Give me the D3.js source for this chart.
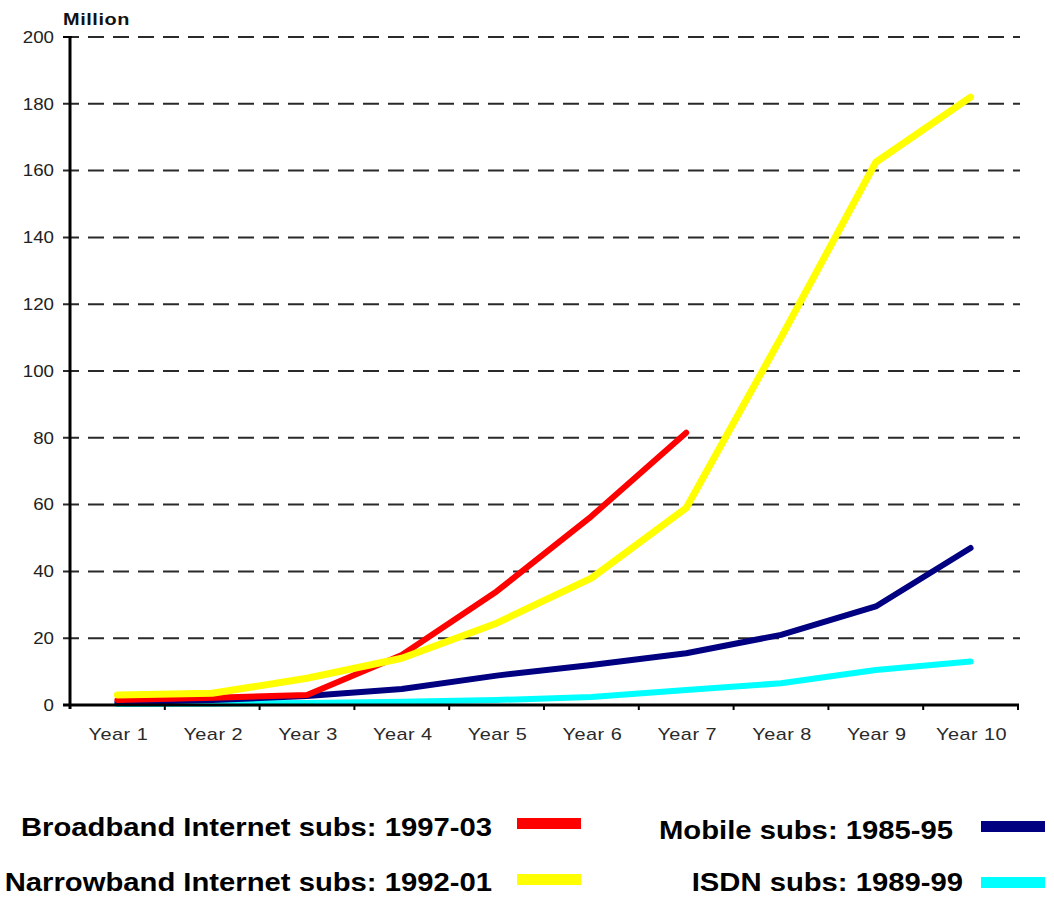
<!DOCTYPE html>
<html>
<head>
<meta charset="utf-8">
<script src="https://cdn.jsdelivr.net/npm/d3@7/dist/d3.min.js"></script>
<style>
  html, body { margin: 0; padding: 0; background: #fff; }
  svg { display: block; }
  text { font-family: "Liberation Sans", Arial, sans-serif; }
</style>
</head>
<body>
<svg id="chart" width="1054" height="897"></svg>
<script>
// Categories along the x axis
const years = ["Year 1", "Year 2", "Year 3", "Year 4", "Year 5",
               "Year 6", "Year 7", "Year 8", "Year 9", "Year 10"];

// Subscribers, in millions, per year since launch
const broadband  = [1.5, 2.2, 3, 15, 34, 56.5, 81.5];
const narrowband = [3, 3.5, 8, 14, 24.5, 38, 59, 110, 162.5, 182];
const mobile     = [0.8, 1.5, 2.7, 4.8, 8.8, 12, 15.5, 21, 29.5, 47];
const isdn       = [0.3, 0.4, 0.6, 1, 1.5, 2.4, 4.5, 6.5, 10.5, 13];

// Value axis ticks
const yTicks = [0, 20, 40, 60, 80, 100, 120, 140, 160, 180, 200];

const seriesNames = ["Broadband Internet subs: 1997-03", "Narrowband Internet subs: 1992-01",
                     "Mobile subs: 1985-95", "ISDN subs: 1989-99"];

const series = [
  { name: seriesNames[3], values: isdn,       color: "#00ffff", width: 6 },
  { name: seriesNames[2], values: mobile,     color: "#000080", width: 6 },
  { name: seriesNames[0], values: broadband,  color: "#ff0000", width: 6 },
  { name: seriesNames[1], values: narrowband, color: "#ffff00", width: 7 }
];

const svg = d3.select("#chart");
const stretch = 1.17;   // text in this chart is drawn slightly wide

const x = d3.scaleBand().domain(years).range([70, 1018]).padding(0);
const y = d3.scaleLinear().domain([0, 200]).range([705, 37]);

// Dashed horizontal gridlines
svg.append("g").selectAll("line")
  .data(yTicks.filter(d => d > 0))
  .join("line")
  .attr("x1", 63).attr("x2", 1020)
  .attr("y1", d => y(d)).attr("y2", d => y(d))
  .attr("stroke", "#2a2a2a")
  .attr("stroke-width", 2)
  .attr("stroke-dasharray", "16 9");

// Y tick labels
svg.append("g").selectAll("text")
  .data(yTicks)
  .join("text")
  .attr("transform", d => `translate(54,${y(d)}) scale(${stretch},1)`)
  .attr("dy", "0.36em")
  .attr("text-anchor", "end")
  .attr("font-size", 16)
  .attr("fill", "#222")
  .text(d => d);

// Unit label
svg.append("text")
  .attr("transform", `translate(63,25) scale(${stretch},1)`)
  .attr("font-size", 17)
  .attr("font-weight", "bold")
  .attr("letter-spacing", 0.5)
  .attr("fill", "#111")
  .text("Million");

// Data lines
const line = d3.line()
  .x((d, i) => x(years[i]) + x.bandwidth() / 2)
  .y(d => y(d));

svg.append("g").selectAll("path")
  .data(series)
  .join("path")
  .attr("d", s => line(s.values))
  .attr("fill", "none")
  .attr("stroke", s => s.color)
  .attr("stroke-width", s => s.width)
  .attr("stroke-linejoin", "round")
  .attr("stroke-linecap", "round");

// Axes
const axes = svg.append("g").attr("stroke", "#000");
axes.append("line")
  .attr("x1", 70).attr("x2", 70)
  .attr("y1", y(200)).attr("y2", y(0) + 4)
  .attr("stroke-width", 3);
axes.append("line")
  .attr("x1", 63).attr("x2", 1019)
  .attr("y1", y(0)).attr("y2", y(0))
  .attr("stroke-width", 3);
axes.append("line")
  .attr("x1", 63).attr("x2", 72)
  .attr("y1", y(200)).attr("y2", y(200))
  .attr("stroke-width", 2);
// Ticks at category boundaries
axes.selectAll("line.tick")
  .data(years)
  .join("line")
  .attr("class", "tick")
  .attr("x1", d => x(d) + x.bandwidth()).attr("x2", d => x(d) + x.bandwidth())
  .attr("y1", y(0)).attr("y2", y(0) + 5)
  .attr("stroke-width", 2);

// X tick labels
svg.append("g").selectAll("text")
  .data(years)
  .join("text")
  .attr("transform", d => `translate(${x(d) + x.bandwidth() / 2 + 1},740) scale(${stretch},1)`)
  .attr("text-anchor", "middle")
  .attr("font-size", 17)
  .attr("fill", "#2a2a2a")
  .attr("letter-spacing", 0.4)
  .text(d => d);

// Legend
const legend = [
  { name: seriesNames[0], color: "#ff0000", tx: 492, ty: 836, sx: 517, sy: 818 },
  { name: seriesNames[1], color: "#ffff00", tx: 492, ty: 891, sx: 517, sy: 874 },
  { name: seriesNames[2], color: "#000080", tx: 953, ty: 839, sx: 981, sy: 821 },
  { name: seriesNames[3], color: "#00ffff", tx: 963, ty: 891, sx: 981, sy: 877 }
];
const lg = svg.append("g");
lg.selectAll("text")
  .data(legend)
  .join("text")
  .attr("transform", d => `translate(${d.tx},${d.ty}) scale(${stretch},1)`)
  .attr("text-anchor", "end")
  .attr("font-size", 25)
  .attr("font-weight", "bold")
  .attr("fill", "#000")
  .text(d => d.name);
lg.selectAll("rect")
  .data(legend)
  .join("rect")
  .attr("x", d => d.sx).attr("y", d => d.sy)
  .attr("width", 64).attr("height", 11)
  .attr("fill", d => d.color);
</script>
</body>
</html>
